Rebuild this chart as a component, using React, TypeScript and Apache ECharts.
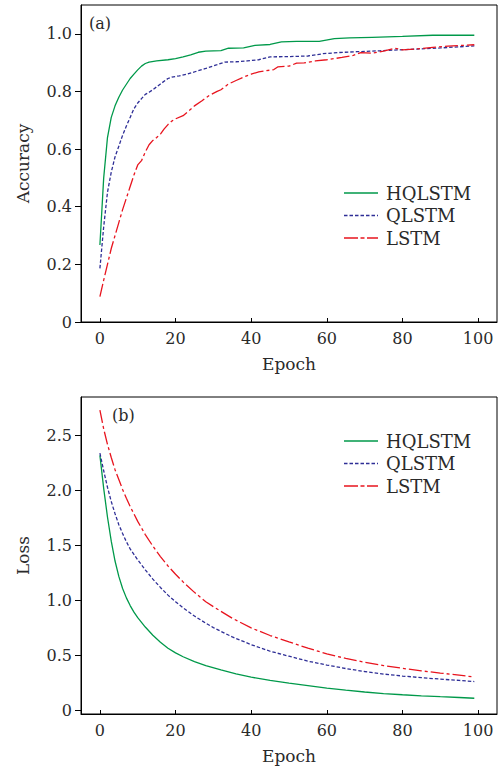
import React, { useEffect, useRef } from 'react';
import * as echarts from 'echarts';

const seriesNames = ['HQLSTM', 'QLSTM', 'LSTM'];
const xTicks = [0, 20, 40, 60, 80, 100];
const accTicks = [0, 0.2, 0.4, 0.6, 0.8, 1.0];
const lossTicks = [0, 0.5, 1.0, 1.5, 2.0, 2.5];

// Accuracy: [epoch, value]
const accHQLSTM: [number, number][] = [
  [0, 0.267], [1, 0.5], [2, 0.64], [3, 0.71], [4, 0.75], [5, 0.78], [6, 0.805], [7, 0.825],
  [8, 0.845], [9, 0.86], [10, 0.875], [11, 0.888], [12, 0.897], [13, 0.902], [15, 0.906],
  [18, 0.91], [20, 0.914], [22, 0.92], [24, 0.927], [26, 0.936], [28, 0.94], [32, 0.942],
  [34, 0.95], [38, 0.951], [41, 0.96], [45, 0.963], [48, 0.972], [52, 0.974], [58, 0.974],
  [62, 0.983], [66, 0.986], [72, 0.988], [80, 0.991], [88, 0.995], [99, 0.995],
];
const accQLSTM: [number, number][] = [
  [0, 0.186], [1, 0.33], [2, 0.45], [3, 0.52], [4, 0.573], [5, 0.61], [6, 0.648], [7, 0.68],
  [8, 0.71], [9, 0.74], [10, 0.76], [11, 0.775], [12, 0.79], [13, 0.797], [14, 0.806],
  [16, 0.826], [18, 0.845], [19, 0.85], [21, 0.854], [23, 0.86], [26, 0.872], [28, 0.88],
  [31, 0.893], [33, 0.902], [36, 0.903], [39, 0.906], [42, 0.91], [45, 0.92], [50, 0.921],
  [55, 0.923], [59, 0.931], [63, 0.935], [68, 0.938], [74, 0.941], [80, 0.945], [85, 0.948],
  [90, 0.951], [95, 0.955], [99, 0.958],
];
const accLSTM: [number, number][] = [
  [0, 0.088], [1, 0.145], [2, 0.2], [3, 0.255], [4, 0.3], [5, 0.345], [6, 0.39], [7, 0.43],
  [8, 0.47], [9, 0.51], [10, 0.545], [11, 0.56], [12, 0.59], [13, 0.615], [14, 0.63],
  [15, 0.64], [16, 0.652], [17, 0.67], [18, 0.685], [19, 0.697], [20, 0.705], [22, 0.716],
  [24, 0.738], [25, 0.75], [27, 0.768], [29, 0.787], [31, 0.8], [32, 0.806], [34, 0.826],
  [36, 0.838], [38, 0.85], [40, 0.86], [42, 0.868], [44, 0.872], [46, 0.876], [47, 0.885],
  [50, 0.888], [52, 0.898], [54, 0.899], [57, 0.906], [60, 0.91], [62, 0.914], [64, 0.918],
  [67, 0.925], [69, 0.935], [72, 0.933], [75, 0.94], [78, 0.95], [80, 0.944], [84, 0.948],
  [88, 0.953], [92, 0.957], [96, 0.96], [99, 0.962],
];

// Loss: [epoch, value]
const lossHQLSTM: [number, number][] = [
  [0, 2.32], [1, 2.02], [2, 1.76], [3, 1.54], [4, 1.36], [5, 1.22], [6, 1.11], [7, 1.025],
  [8, 0.955], [9, 0.895], [10, 0.845], [12, 0.76], [14, 0.685], [16, 0.622], [18, 0.568],
  [20, 0.525], [22, 0.49], [25, 0.445], [28, 0.41], [32, 0.37], [36, 0.335], [40, 0.305],
  [45, 0.275], [50, 0.25], [55, 0.228], [60, 0.205], [65, 0.186], [70, 0.17], [75, 0.156],
  [80, 0.145], [85, 0.135], [90, 0.127], [95, 0.12], [99, 0.113],
];
const lossQLSTM: [number, number][] = [
  [0, 2.34], [1, 2.18], [2, 2.03], [3, 1.9], [4, 1.79], [5, 1.69], [6, 1.61], [7, 1.535],
  [8, 1.47], [10, 1.37], [12, 1.28], [14, 1.195], [16, 1.12], [18, 1.05], [20, 0.99],
  [22, 0.935], [25, 0.86], [28, 0.795], [30, 0.755], [35, 0.67], [40, 0.6], [45, 0.54],
  [50, 0.495], [55, 0.45], [60, 0.415], [65, 0.383], [70, 0.356], [75, 0.333], [80, 0.315],
  [85, 0.3], [90, 0.287], [95, 0.275], [99, 0.265],
];
const lossLSTM: [number, number][] = [
  [0, 2.73], [1, 2.56], [2, 2.42], [3, 2.3], [4, 2.19], [5, 2.1], [6, 2.01], [7, 1.93],
  [8, 1.855], [10, 1.72], [12, 1.6], [14, 1.495], [16, 1.4], [18, 1.315], [20, 1.24],
  [22, 1.17], [25, 1.075], [28, 0.99], [30, 0.945], [35, 0.84], [40, 0.752], [45, 0.683],
  [50, 0.625], [55, 0.568], [60, 0.517], [65, 0.475], [70, 0.44], [75, 0.41], [80, 0.385],
  [85, 0.362], [90, 0.342], [95, 0.323], [99, 0.306],
];

const FONT = 'DejaVu Serif';
const FS = 16;
const NAME_FS = 17;
const LEG_FS = 18;
const TXT = '#2a2a2a';
const colors = ['#00994a', '#2e2e96', '#e8141e'];
const dashes: any[] = ['solid', [3.5, 2], [13, 3, 3, 3]];
const lineDashes: any[] = [null, [3.5, 2], [14, 2.5, 4, 2.5]];

export default function App() {
  const ref = useRef<HTMLDivElement>(null);

  useEffect(() => {
    if (!ref.current) return;
    const chart = echarts.init(ref.current, undefined, { renderer: 'svg' });

    const mkX = (gridIndex: number) => ({
      gridIndex,
      type: 'value',
      min: -5,
      max: 105,
      axisLine: { show: true, onZero: false, lineStyle: { color: '#000', width: 1 } },
      axisTick: { show: true, inside: true, length: 4, customValues: xTicks, lineStyle: { color: '#000' } },
      axisLabel: { customValues: xTicks, margin: 8, fontFamily: FONT, fontSize: FS, color: TXT },
      splitLine: { show: false },
      name: 'Epoch',
      nameLocation: 'middle',
      nameGap: 33,
      nameTextStyle: { fontFamily: FONT, fontSize: NAME_FS, color: TXT },
    });

    const mkY = (gridIndex: number, min: number, max: number, ticks: number[], name: string) => ({
      gridIndex,
      type: 'value',
      min,
      max,
      axisLine: { show: true, onZero: false, lineStyle: { color: '#000', width: 1 } },
      axisTick: { show: true, inside: false, length: 6, customValues: ticks, lineStyle: { color: '#000' } },
      axisLabel: {
        customValues: ticks,
        margin: 9,
        fontFamily: FONT,
        fontSize: FS,
        color: TXT,
        formatter: (v: number) => (Math.abs(v) < 1e-9 ? '0' : v.toFixed(1)),
      },
      splitLine: { show: false },
      name,
      nameLocation: 'middle',
      nameGap: 50,
      nameRotate: 90,
      nameTextStyle: { fontFamily: FONT, fontSize: NAME_FS, color: TXT },
    });

    const accData = [accHQLSTM, accQLSTM, accLSTM];
    const lossData = [lossHQLSTM, lossQLSTM, lossLSTM];

    const series: any[] = [];
    seriesNames.forEach((name, i) => {
      series.push({
        name,
        type: 'line',
        xAxisIndex: 0,
        yAxisIndex: 0,
        data: accData[i],
        showSymbol: false,
        symbol: 'none',
        smooth: false,
        color: colors[i],
        lineStyle: { color: colors[i], width: 1.3, type: dashes[i] },
      });
    });
    seriesNames.forEach((name, i) => {
      series.push({
        name,
        type: 'line',
        xAxisIndex: 1,
        yAxisIndex: 1,
        data: lossData[i],
        showSymbol: false,
        symbol: 'none',
        smooth: false,
        color: colors[i],
        lineStyle: { color: colors[i], width: 1.3, type: dashes[i] },
      });
    });

    const legendRows = (ys: number[]) => {
      const els: any[] = [];
      seriesNames.forEach((name, i) => {
        const st: any = { stroke: colors[i], lineWidth: 1.4 };
        if (lineDashes[i]) st.lineDash = lineDashes[i];
        els.push({ type: 'line', shape: { x1: 344, y1: ys[i], x2: 378, y2: ys[i] }, style: st, silent: true });
        els.push({
          type: 'text',
          x: 386,
          y: ys[i],
          style: { text: name, fontFamily: FONT, fontSize: LEG_FS, fill: TXT, verticalAlign: 'middle', align: 'left' },
          silent: true,
        });
      });
      return els;
    };

    chart.setOption({
      animation: false,
      backgroundColor: '#fff',
      grid: [
        { left: 81, top: 5, width: 416, height: 317, show: true, borderColor: '#000', borderWidth: 1, backgroundColor: 'transparent' },
        { left: 81, top: 397, width: 416, height: 317, show: true, borderColor: '#000', borderWidth: 1, backgroundColor: 'transparent' },
      ],
      xAxis: [mkX(0), mkX(1)],
      yAxis: [
        mkY(0, 0, 1.1, accTicks, 'Accuracy'),
        mkY(1, -0.03, 2.85, lossTicks, 'Loss'),
      ],
      graphic: [
        { type: 'text', x: 89, y: 23, style: { text: '(a)', fontFamily: FONT, fontSize: FS, fill: TXT, verticalAlign: 'middle' } },
        { type: 'text', x: 112, y: 415, style: { text: '(b)', fontFamily: FONT, fontSize: FS, fill: TXT, verticalAlign: 'middle' } },
        ...legendRows([193, 215.5, 238]),
        ...legendRows([441, 463.5, 486]),
      ],
      series,
    });

    return () => chart.dispose();
  }, []);

  return (
    <div
      ref={ref}
      style={{ position: 'fixed', left: 0, top: 0, width: 503, height: 769, background: '#fff' }}
    />
  );
}
